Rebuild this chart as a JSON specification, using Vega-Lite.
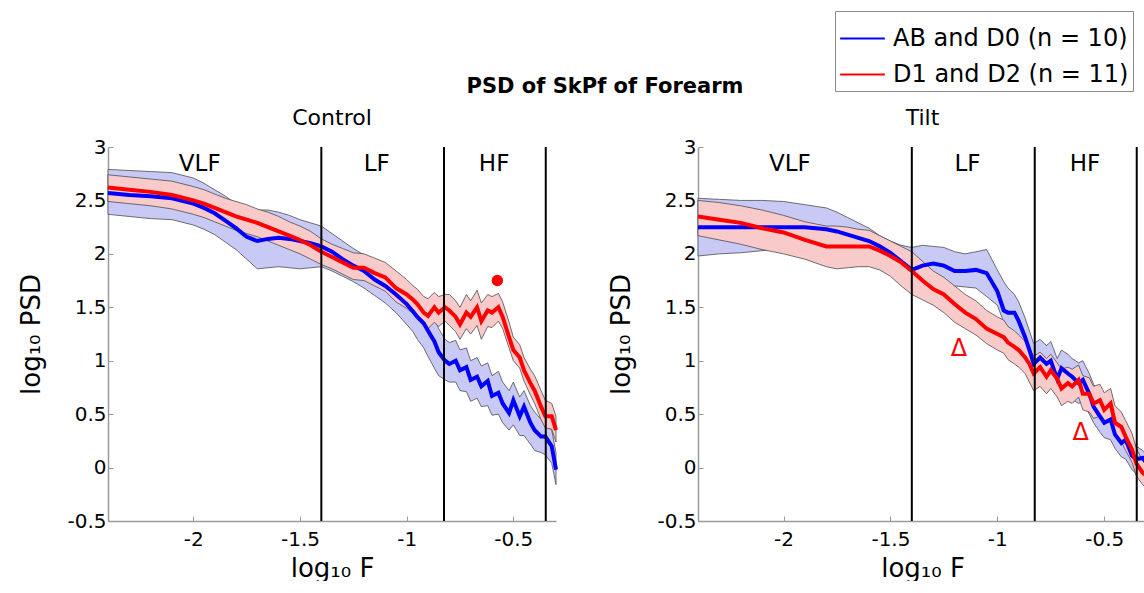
{
"$schema": "https://vega.github.io/schema/vega-lite/v6.json",
"background": "white",
"padding": {"left": 18, "top": 10, "right": 0, "bottom": 0},
"bounds": "flush",
"spacing": 142,
"title": {"text": "PSD of SkPf of Forearm", "fontSize": 21, "fontWeight": "bold", "font": "DejaVu Sans", "anchor": "middle", "color": "black", "offset": -86, "dx": 18},
"config": {
  "font": "DejaVu Sans",
  "view": {"stroke": null},
  "axis": {"domainColor": "#9a9a9a", "domainWidth": 1.5, "tickColor": "#9a9a9a", "tickSize": -5, "labelFontSize": 20, "labelColor": "black", "titleFontSize": 26, "titleFontWeight": "normal", "titleColor": "black", "grid": false, "labelFont": "DejaVu Sans", "titleFont": "DejaVu Sans"},
  "axisX": {"labelPadding": 13, "titlePadding": 6},
  "axisY": {"labelPadding": 7, "titlePadding": 22},
  "title": {"fontSize": 22, "fontWeight": "normal", "color": "black", "font": "DejaVu Sans"}
},
"datasets": {
  "psd": [
    {"panel":"Control","group":"AB and D0 (n = 10)","x":-2.4,"mean":2.57,"lo":2.37,"hi":2.79},
    {"panel":"Control","group":"AB and D0 (n = 10)","x":-2.3,"mean":2.55,"lo":2.35,"hi":2.78},
    {"panel":"Control","group":"AB and D0 (n = 10)","x":-2.2,"mean":2.54,"lo":2.33,"hi":2.77},
    {"panel":"Control","group":"AB and D0 (n = 10)","x":-2.1,"mean":2.52,"lo":2.32,"hi":2.76},
    {"panel":"Control","group":"AB and D0 (n = 10)","x":-2.0,"mean":2.47,"lo":2.27,"hi":2.71},
    {"panel":"Control","group":"AB and D0 (n = 10)","x":-1.95,"mean":2.43,"lo":2.23,"hi":2.66},
    {"panel":"Control","group":"AB and D0 (n = 10)","x":-1.9,"mean":2.38,"lo":2.18,"hi":2.60},
    {"panel":"Control","group":"AB and D0 (n = 10)","x":-1.85,"mean":2.31,"lo":2.11,"hi":2.54},
    {"panel":"Control","group":"AB and D0 (n = 10)","x":-1.8,"mean":2.24,"lo":2.04,"hi":2.47},
    {"panel":"Control","group":"AB and D0 (n = 10)","x":-1.75,"mean":2.16,"lo":1.95,"hi":2.43},
    {"panel":"Control","group":"AB and D0 (n = 10)","x":-1.7,"mean":2.12,"lo":1.86,"hi":2.41},
    {"panel":"Control","group":"AB and D0 (n = 10)","x":-1.65,"mean":2.14,"lo":1.87,"hi":2.41},
    {"panel":"Control","group":"AB and D0 (n = 10)","x":-1.6,"mean":2.15,"lo":1.88,"hi":2.39},
    {"panel":"Control","group":"AB and D0 (n = 10)","x":-1.55,"mean":2.14,"lo":1.87,"hi":2.36},
    {"panel":"Control","group":"AB and D0 (n = 10)","x":-1.5,"mean":2.12,"lo":1.86,"hi":2.32},
    {"panel":"Control","group":"AB and D0 (n = 10)","x":-1.45,"mean":2.10,"lo":1.87,"hi":2.29},
    {"panel":"Control","group":"AB and D0 (n = 10)","x":-1.4,"mean":2.07,"lo":1.88,"hi":2.26},
    {"panel":"Control","group":"AB and D0 (n = 10)","x":-1.35,"mean":2.02,"lo":1.84,"hi":2.19},
    {"panel":"Control","group":"AB and D0 (n = 10)","x":-1.3,"mean":1.95,"lo":1.79,"hi":2.12},
    {"panel":"Control","group":"AB and D0 (n = 10)","x":-1.25,"mean":1.89,"lo":1.74,"hi":2.05},
    {"panel":"Control","group":"AB and D0 (n = 10)","x":-1.2,"mean":1.84,"lo":1.68,"hi":1.99},
    {"panel":"Control","group":"AB and D0 (n = 10)","x":-1.15,"mean":1.76,"lo":1.61,"hi":1.94},
    {"panel":"Control","group":"AB and D0 (n = 10)","x":-1.1,"mean":1.70,"lo":1.54,"hi":1.88},
    {"panel":"Control","group":"AB and D0 (n = 10)","x":-1.05,"mean":1.62,"lo":1.45,"hi":1.80},
    {"panel":"Control","group":"AB and D0 (n = 10)","x":-1.0,"mean":1.53,"lo":1.34,"hi":1.70},
    {"panel":"Control","group":"AB and D0 (n = 10)","x":-0.97,"mean":1.46,"lo":1.27,"hi":1.63},
    {"panel":"Control","group":"AB and D0 (n = 10)","x":-0.95,"mean":1.41,"lo":1.20,"hi":1.58},
    {"panel":"Control","group":"AB and D0 (n = 10)","x":-0.92,"mean":1.35,"lo":1.12,"hi":1.52},
    {"panel":"Control","group":"AB and D0 (n = 10)","x":-0.9,"mean":1.28,"lo":1.04,"hi":1.48},
    {"panel":"Control","group":"AB and D0 (n = 10)","x":-0.87,"mean":1.18,"lo":0.93,"hi":1.40},
    {"panel":"Control","group":"AB and D0 (n = 10)","x":-0.85,"mean":1.08,"lo":0.86,"hi":1.30},
    {"panel":"Control","group":"AB and D0 (n = 10)","x":-0.82,"mean":1.00,"lo":0.82,"hi":1.20},
    {"panel":"Control","group":"AB and D0 (n = 10)","x":-0.8,"mean":0.97,"lo":0.80,"hi":1.17},
    {"panel":"Control","group":"AB and D0 (n = 10)","x":-0.77,"mean":1.00,"lo":0.80,"hi":1.19},
    {"panel":"Control","group":"AB and D0 (n = 10)","x":-0.75,"mean":0.91,"lo":0.72,"hi":1.10},
    {"panel":"Control","group":"AB and D0 (n = 10)","x":-0.72,"mean":0.94,"lo":0.71,"hi":1.12},
    {"panel":"Control","group":"AB and D0 (n = 10)","x":-0.7,"mean":0.82,"lo":0.62,"hi":1.00},
    {"panel":"Control","group":"AB and D0 (n = 10)","x":-0.67,"mean":0.85,"lo":0.65,"hi":1.03},
    {"panel":"Control","group":"AB and D0 (n = 10)","x":-0.65,"mean":0.76,"lo":0.57,"hi":0.95},
    {"panel":"Control","group":"AB and D0 (n = 10)","x":-0.62,"mean":0.81,"lo":0.58,"hi":0.98},
    {"panel":"Control","group":"AB and D0 (n = 10)","x":-0.6,"mean":0.67,"lo":0.49,"hi":0.86},
    {"panel":"Control","group":"AB and D0 (n = 10)","x":-0.57,"mean":0.70,"lo":0.50,"hi":0.90},
    {"panel":"Control","group":"AB and D0 (n = 10)","x":-0.55,"mean":0.60,"lo":0.42,"hi":0.80},
    {"panel":"Control","group":"AB and D0 (n = 10)","x":-0.52,"mean":0.51,"lo":0.35,"hi":0.72},
    {"panel":"Control","group":"AB and D0 (n = 10)","x":-0.5,"mean":0.63,"lo":0.40,"hi":0.80},
    {"panel":"Control","group":"AB and D0 (n = 10)","x":-0.47,"mean":0.48,"lo":0.30,"hi":0.66},
    {"panel":"Control","group":"AB and D0 (n = 10)","x":-0.45,"mean":0.57,"lo":0.30,"hi":0.72},
    {"panel":"Control","group":"AB and D0 (n = 10)","x":-0.42,"mean":0.42,"lo":0.22,"hi":0.58},
    {"panel":"Control","group":"AB and D0 (n = 10)","x":-0.4,"mean":0.35,"lo":0.16,"hi":0.52},
    {"panel":"Control","group":"AB and D0 (n = 10)","x":-0.37,"mean":0.29,"lo":0.14,"hi":0.45},
    {"panel":"Control","group":"AB and D0 (n = 10)","x":-0.35,"mean":0.29,"lo":0.12,"hi":0.42},
    {"panel":"Control","group":"AB and D0 (n = 10)","x":-0.32,"mean":0.20,"lo":0.04,"hi":0.35},
    {"panel":"Control","group":"AB and D0 (n = 10)","x":-0.3,"mean":-0.02,"lo":-0.16,"hi":0.14},

    {"panel":"Control","group":"D1 and D2 (n = 11)","x":-2.4,"mean":2.62,"lo":2.49,"hi":2.74},
    {"panel":"Control","group":"D1 and D2 (n = 11)","x":-2.3,"mean":2.60,"lo":2.47,"hi":2.72},
    {"panel":"Control","group":"D1 and D2 (n = 11)","x":-2.2,"mean":2.58,"lo":2.45,"hi":2.70},
    {"panel":"Control","group":"D1 and D2 (n = 11)","x":-2.1,"mean":2.55,"lo":2.42,"hi":2.68},
    {"panel":"Control","group":"D1 and D2 (n = 11)","x":-2.0,"mean":2.50,"lo":2.37,"hi":2.63},
    {"panel":"Control","group":"D1 and D2 (n = 11)","x":-1.95,"mean":2.47,"lo":2.34,"hi":2.60},
    {"panel":"Control","group":"D1 and D2 (n = 11)","x":-1.9,"mean":2.43,"lo":2.30,"hi":2.56},
    {"panel":"Control","group":"D1 and D2 (n = 11)","x":-1.85,"mean":2.39,"lo":2.26,"hi":2.52},
    {"panel":"Control","group":"D1 and D2 (n = 11)","x":-1.8,"mean":2.35,"lo":2.22,"hi":2.49},
    {"panel":"Control","group":"D1 and D2 (n = 11)","x":-1.75,"mean":2.32,"lo":2.19,"hi":2.46},
    {"panel":"Control","group":"D1 and D2 (n = 11)","x":-1.7,"mean":2.29,"lo":2.16,"hi":2.42},
    {"panel":"Control","group":"D1 and D2 (n = 11)","x":-1.65,"mean":2.25,"lo":2.12,"hi":2.39},
    {"panel":"Control","group":"D1 and D2 (n = 11)","x":-1.6,"mean":2.21,"lo":2.08,"hi":2.35},
    {"panel":"Control","group":"D1 and D2 (n = 11)","x":-1.55,"mean":2.17,"lo":2.04,"hi":2.30},
    {"panel":"Control","group":"D1 and D2 (n = 11)","x":-1.5,"mean":2.13,"lo":2.00,"hi":2.26},
    {"panel":"Control","group":"D1 and D2 (n = 11)","x":-1.45,"mean":2.08,"lo":1.95,"hi":2.21},
    {"panel":"Control","group":"D1 and D2 (n = 11)","x":-1.4,"mean":2.02,"lo":1.90,"hi":2.14},
    {"panel":"Control","group":"D1 and D2 (n = 11)","x":-1.35,"mean":1.97,"lo":1.86,"hi":2.09},
    {"panel":"Control","group":"D1 and D2 (n = 11)","x":-1.3,"mean":1.92,"lo":1.81,"hi":2.05},
    {"panel":"Control","group":"D1 and D2 (n = 11)","x":-1.25,"mean":1.87,"lo":1.76,"hi":2.01},
    {"panel":"Control","group":"D1 and D2 (n = 11)","x":-1.2,"mean":1.87,"lo":1.75,"hi":2.00},
    {"panel":"Control","group":"D1 and D2 (n = 11)","x":-1.15,"mean":1.82,"lo":1.70,"hi":1.96},
    {"panel":"Control","group":"D1 and D2 (n = 11)","x":-1.1,"mean":1.78,"lo":1.65,"hi":1.92},
    {"panel":"Control","group":"D1 and D2 (n = 11)","x":-1.05,"mean":1.68,"lo":1.55,"hi":1.84},
    {"panel":"Control","group":"D1 and D2 (n = 11)","x":-1.0,"mean":1.62,"lo":1.49,"hi":1.76},
    {"panel":"Control","group":"D1 and D2 (n = 11)","x":-0.97,"mean":1.57,"lo":1.44,"hi":1.70},
    {"panel":"Control","group":"D1 and D2 (n = 11)","x":-0.95,"mean":1.53,"lo":1.40,"hi":1.67},
    {"panel":"Control","group":"D1 and D2 (n = 11)","x":-0.92,"mean":1.45,"lo":1.33,"hi":1.60},
    {"panel":"Control","group":"D1 and D2 (n = 11)","x":-0.9,"mean":1.42,"lo":1.30,"hi":1.58},
    {"panel":"Control","group":"D1 and D2 (n = 11)","x":-0.87,"mean":1.50,"lo":1.36,"hi":1.64},
    {"panel":"Control","group":"D1 and D2 (n = 11)","x":-0.85,"mean":1.45,"lo":1.32,"hi":1.60},
    {"panel":"Control","group":"D1 and D2 (n = 11)","x":-0.82,"mean":1.50,"lo":1.37,"hi":1.62},
    {"panel":"Control","group":"D1 and D2 (n = 11)","x":-0.8,"mean":1.47,"lo":1.33,"hi":1.62},
    {"panel":"Control","group":"D1 and D2 (n = 11)","x":-0.77,"mean":1.41,"lo":1.27,"hi":1.56},
    {"panel":"Control","group":"D1 and D2 (n = 11)","x":-0.75,"mean":1.34,"lo":1.20,"hi":1.50},
    {"panel":"Control","group":"D1 and D2 (n = 11)","x":-0.72,"mean":1.45,"lo":1.30,"hi":1.62},
    {"panel":"Control","group":"D1 and D2 (n = 11)","x":-0.7,"mean":1.41,"lo":1.25,"hi":1.56},
    {"panel":"Control","group":"D1 and D2 (n = 11)","x":-0.67,"mean":1.50,"lo":1.33,"hi":1.66},
    {"panel":"Control","group":"D1 and D2 (n = 11)","x":-0.65,"mean":1.37,"lo":1.20,"hi":1.54},
    {"panel":"Control","group":"D1 and D2 (n = 11)","x":-0.62,"mean":1.47,"lo":1.32,"hi":1.62},
    {"panel":"Control","group":"D1 and D2 (n = 11)","x":-0.6,"mean":1.45,"lo":1.31,"hi":1.60},
    {"panel":"Control","group":"D1 and D2 (n = 11)","x":-0.57,"mean":1.50,"lo":1.37,"hi":1.63},
    {"panel":"Control","group":"D1 and D2 (n = 11)","x":-0.55,"mean":1.41,"lo":1.30,"hi":1.55},
    {"panel":"Control","group":"D1 and D2 (n = 11)","x":-0.52,"mean":1.22,"lo":1.12,"hi":1.36},
    {"panel":"Control","group":"D1 and D2 (n = 11)","x":-0.5,"mean":1.10,"lo":1.00,"hi":1.22},
    {"panel":"Control","group":"D1 and D2 (n = 11)","x":-0.47,"mean":1.03,"lo":0.93,"hi":1.15},
    {"panel":"Control","group":"D1 and D2 (n = 11)","x":-0.45,"mean":0.91,"lo":0.81,"hi":1.03},
    {"panel":"Control","group":"D1 and D2 (n = 11)","x":-0.42,"mean":0.79,"lo":0.68,"hi":0.92},
    {"panel":"Control","group":"D1 and D2 (n = 11)","x":-0.4,"mean":0.72,"lo":0.60,"hi":0.86},
    {"panel":"Control","group":"D1 and D2 (n = 11)","x":-0.37,"mean":0.57,"lo":0.45,"hi":0.72},
    {"panel":"Control","group":"D1 and D2 (n = 11)","x":-0.35,"mean":0.48,"lo":0.37,"hi":0.63},
    {"panel":"Control","group":"D1 and D2 (n = 11)","x":-0.32,"mean":0.48,"lo":0.36,"hi":0.60},
    {"panel":"Control","group":"D1 and D2 (n = 11)","x":-0.3,"mean":0.35,"lo":0.24,"hi":0.48},

    {"panel":"Tilt","group":"AB and D0 (n = 10)","x":-2.4,"mean":2.25,"lo":1.98,"hi":2.52},
    {"panel":"Tilt","group":"AB and D0 (n = 10)","x":-2.3,"mean":2.25,"lo":2.00,"hi":2.51},
    {"panel":"Tilt","group":"AB and D0 (n = 10)","x":-2.2,"mean":2.25,"lo":2.01,"hi":2.50},
    {"panel":"Tilt","group":"AB and D0 (n = 10)","x":-2.1,"mean":2.25,"lo":2.03,"hi":2.50},
    {"panel":"Tilt","group":"AB and D0 (n = 10)","x":-2.0,"mean":2.25,"lo":2.05,"hi":2.49},
    {"panel":"Tilt","group":"AB and D0 (n = 10)","x":-1.9,"mean":2.25,"lo":2.05,"hi":2.46},
    {"panel":"Tilt","group":"AB and D0 (n = 10)","x":-1.8,"mean":2.23,"lo":2.03,"hi":2.43},
    {"panel":"Tilt","group":"AB and D0 (n = 10)","x":-1.75,"mean":2.21,"lo":2.01,"hi":2.39},
    {"panel":"Tilt","group":"AB and D0 (n = 10)","x":-1.7,"mean":2.18,"lo":1.99,"hi":2.34},
    {"panel":"Tilt","group":"AB and D0 (n = 10)","x":-1.65,"mean":2.15,"lo":1.97,"hi":2.29},
    {"panel":"Tilt","group":"AB and D0 (n = 10)","x":-1.6,"mean":2.12,"lo":1.94,"hi":2.24},
    {"panel":"Tilt","group":"AB and D0 (n = 10)","x":-1.55,"mean":2.07,"lo":1.90,"hi":2.17},
    {"panel":"Tilt","group":"AB and D0 (n = 10)","x":-1.5,"mean":2.01,"lo":1.84,"hi":2.12},
    {"panel":"Tilt","group":"AB and D0 (n = 10)","x":-1.45,"mean":1.93,"lo":1.77,"hi":2.08},
    {"panel":"Tilt","group":"AB and D0 (n = 10)","x":-1.4,"mean":1.85,"lo":1.70,"hi":2.06},
    {"panel":"Tilt","group":"AB and D0 (n = 10)","x":-1.35,"mean":1.89,"lo":1.72,"hi":2.08},
    {"panel":"Tilt","group":"AB and D0 (n = 10)","x":-1.3,"mean":1.91,"lo":1.74,"hi":2.07},
    {"panel":"Tilt","group":"AB and D0 (n = 10)","x":-1.25,"mean":1.89,"lo":1.72,"hi":2.06},
    {"panel":"Tilt","group":"AB and D0 (n = 10)","x":-1.2,"mean":1.84,"lo":1.70,"hi":2.02},
    {"panel":"Tilt","group":"AB and D0 (n = 10)","x":-1.15,"mean":1.84,"lo":1.69,"hi":2.00},
    {"panel":"Tilt","group":"AB and D0 (n = 10)","x":-1.1,"mean":1.85,"lo":1.68,"hi":2.02},
    {"panel":"Tilt","group":"AB and D0 (n = 10)","x":-1.05,"mean":1.82,"lo":1.60,"hi":2.04},
    {"panel":"Tilt","group":"AB and D0 (n = 10)","x":-1.0,"mean":1.65,"lo":1.52,"hi":1.85},
    {"panel":"Tilt","group":"AB and D0 (n = 10)","x":-0.97,"mean":1.47,"lo":1.36,"hi":1.74},
    {"panel":"Tilt","group":"AB and D0 (n = 10)","x":-0.95,"mean":1.45,"lo":1.30,"hi":1.68},
    {"panel":"Tilt","group":"AB and D0 (n = 10)","x":-0.92,"mean":1.45,"lo":1.25,"hi":1.62},
    {"panel":"Tilt","group":"AB and D0 (n = 10)","x":-0.9,"mean":1.37,"lo":1.18,"hi":1.55},
    {"panel":"Tilt","group":"AB and D0 (n = 10)","x":-0.87,"mean":1.22,"lo":1.05,"hi":1.40},
    {"panel":"Tilt","group":"AB and D0 (n = 10)","x":-0.85,"mean":1.10,"lo":0.97,"hi":1.28},
    {"panel":"Tilt","group":"AB and D0 (n = 10)","x":-0.83,"mean":0.97,"lo":0.88,"hi":1.16},
    {"panel":"Tilt","group":"AB and D0 (n = 10)","x":-0.8,"mean":1.03,"lo":0.86,"hi":1.20},
    {"panel":"Tilt","group":"AB and D0 (n = 10)","x":-0.77,"mean":0.97,"lo":0.80,"hi":1.14},
    {"panel":"Tilt","group":"AB and D0 (n = 10)","x":-0.75,"mean":1.00,"lo":0.78,"hi":1.18},
    {"panel":"Tilt","group":"AB and D0 (n = 10)","x":-0.72,"mean":0.83,"lo":0.70,"hi":1.02},
    {"panel":"Tilt","group":"AB and D0 (n = 10)","x":-0.7,"mean":0.93,"lo":0.74,"hi":1.10},
    {"panel":"Tilt","group":"AB and D0 (n = 10)","x":-0.67,"mean":0.88,"lo":0.68,"hi":1.06},
    {"panel":"Tilt","group":"AB and D0 (n = 10)","x":-0.65,"mean":0.85,"lo":0.64,"hi":1.02},
    {"panel":"Tilt","group":"AB and D0 (n = 10)","x":-0.62,"mean":0.79,"lo":0.60,"hi":0.98},
    {"panel":"Tilt","group":"AB and D0 (n = 10)","x":-0.6,"mean":0.82,"lo":0.62,"hi":1.00},
    {"panel":"Tilt","group":"AB and D0 (n = 10)","x":-0.57,"mean":0.69,"lo":0.50,"hi":0.88},
    {"panel":"Tilt","group":"AB and D0 (n = 10)","x":-0.55,"mean":0.57,"lo":0.42,"hi":0.78},
    {"panel":"Tilt","group":"AB and D0 (n = 10)","x":-0.52,"mean":0.48,"lo":0.33,"hi":0.68},
    {"panel":"Tilt","group":"AB and D0 (n = 10)","x":-0.5,"mean":0.42,"lo":0.28,"hi":0.60},
    {"panel":"Tilt","group":"AB and D0 (n = 10)","x":-0.47,"mean":0.45,"lo":0.26,"hi":0.58},
    {"panel":"Tilt","group":"AB and D0 (n = 10)","x":-0.45,"mean":0.31,"lo":0.18,"hi":0.48},
    {"panel":"Tilt","group":"AB and D0 (n = 10)","x":-0.42,"mean":0.23,"lo":0.10,"hi":0.40},
    {"panel":"Tilt","group":"AB and D0 (n = 10)","x":-0.4,"mean":0.26,"lo":0.08,"hi":0.38},
    {"panel":"Tilt","group":"AB and D0 (n = 10)","x":-0.37,"mean":0.11,"lo":-0.02,"hi":0.26},
    {"panel":"Tilt","group":"AB and D0 (n = 10)","x":-0.35,"mean":0.08,"lo":-0.06,"hi":0.20},
    {"panel":"Tilt","group":"AB and D0 (n = 10)","x":-0.32,"mean":0.09,"lo":-0.08,"hi":0.16},
    {"panel":"Tilt","group":"AB and D0 (n = 10)","x":-0.3,"mean":0.04,"lo":-0.12,"hi":0.12},

    {"panel":"Tilt","group":"D1 and D2 (n = 11)","x":-2.4,"mean":2.35,"lo":2.17,"hi":2.50},
    {"panel":"Tilt","group":"D1 and D2 (n = 11)","x":-2.3,"mean":2.32,"lo":2.13,"hi":2.48},
    {"panel":"Tilt","group":"D1 and D2 (n = 11)","x":-2.2,"mean":2.29,"lo":2.09,"hi":2.45},
    {"panel":"Tilt","group":"D1 and D2 (n = 11)","x":-2.1,"mean":2.24,"lo":2.04,"hi":2.41},
    {"panel":"Tilt","group":"D1 and D2 (n = 11)","x":-2.0,"mean":2.20,"lo":2.00,"hi":2.36},
    {"panel":"Tilt","group":"D1 and D2 (n = 11)","x":-1.9,"mean":2.13,"lo":1.95,"hi":2.30},
    {"panel":"Tilt","group":"D1 and D2 (n = 11)","x":-1.8,"mean":2.07,"lo":1.88,"hi":2.26},
    {"panel":"Tilt","group":"D1 and D2 (n = 11)","x":-1.75,"mean":2.07,"lo":1.86,"hi":2.26},
    {"panel":"Tilt","group":"D1 and D2 (n = 11)","x":-1.7,"mean":2.07,"lo":1.87,"hi":2.25},
    {"panel":"Tilt","group":"D1 and D2 (n = 11)","x":-1.65,"mean":2.07,"lo":1.88,"hi":2.23},
    {"panel":"Tilt","group":"D1 and D2 (n = 11)","x":-1.6,"mean":2.07,"lo":1.88,"hi":2.22},
    {"panel":"Tilt","group":"D1 and D2 (n = 11)","x":-1.55,"mean":2.03,"lo":1.85,"hi":2.17},
    {"panel":"Tilt","group":"D1 and D2 (n = 11)","x":-1.5,"mean":1.98,"lo":1.79,"hi":2.12},
    {"panel":"Tilt","group":"D1 and D2 (n = 11)","x":-1.45,"mean":1.92,"lo":1.70,"hi":2.07},
    {"panel":"Tilt","group":"D1 and D2 (n = 11)","x":-1.4,"mean":1.84,"lo":1.62,"hi":2.02},
    {"panel":"Tilt","group":"D1 and D2 (n = 11)","x":-1.35,"mean":1.75,"lo":1.57,"hi":1.93},
    {"panel":"Tilt","group":"D1 and D2 (n = 11)","x":-1.3,"mean":1.67,"lo":1.52,"hi":1.84},
    {"panel":"Tilt","group":"D1 and D2 (n = 11)","x":-1.25,"mean":1.62,"lo":1.45,"hi":1.78},
    {"panel":"Tilt","group":"D1 and D2 (n = 11)","x":-1.2,"mean":1.53,"lo":1.36,"hi":1.70},
    {"panel":"Tilt","group":"D1 and D2 (n = 11)","x":-1.15,"mean":1.45,"lo":1.30,"hi":1.62},
    {"panel":"Tilt","group":"D1 and D2 (n = 11)","x":-1.1,"mean":1.39,"lo":1.24,"hi":1.56},
    {"panel":"Tilt","group":"D1 and D2 (n = 11)","x":-1.05,"mean":1.30,"lo":1.16,"hi":1.47},
    {"panel":"Tilt","group":"D1 and D2 (n = 11)","x":-1.0,"mean":1.25,"lo":1.10,"hi":1.41},
    {"panel":"Tilt","group":"D1 and D2 (n = 11)","x":-0.97,"mean":1.22,"lo":1.07,"hi":1.38},
    {"panel":"Tilt","group":"D1 and D2 (n = 11)","x":-0.95,"mean":1.17,"lo":1.01,"hi":1.32},
    {"panel":"Tilt","group":"D1 and D2 (n = 11)","x":-0.92,"mean":1.13,"lo":0.97,"hi":1.28},
    {"panel":"Tilt","group":"D1 and D2 (n = 11)","x":-0.9,"mean":1.10,"lo":0.94,"hi":1.24},
    {"panel":"Tilt","group":"D1 and D2 (n = 11)","x":-0.87,"mean":1.03,"lo":0.88,"hi":1.18},
    {"panel":"Tilt","group":"D1 and D2 (n = 11)","x":-0.85,"mean":0.97,"lo":0.80,"hi":1.12},
    {"panel":"Tilt","group":"D1 and D2 (n = 11)","x":-0.83,"mean":0.88,"lo":0.72,"hi":1.04},
    {"panel":"Tilt","group":"D1 and D2 (n = 11)","x":-0.8,"mean":0.94,"lo":0.76,"hi":1.08},
    {"panel":"Tilt","group":"D1 and D2 (n = 11)","x":-0.77,"mean":0.85,"lo":0.69,"hi":1.02},
    {"panel":"Tilt","group":"D1 and D2 (n = 11)","x":-0.75,"mean":0.91,"lo":0.74,"hi":1.06},
    {"panel":"Tilt","group":"D1 and D2 (n = 11)","x":-0.72,"mean":0.83,"lo":0.66,"hi":0.98},
    {"panel":"Tilt","group":"D1 and D2 (n = 11)","x":-0.7,"mean":0.74,"lo":0.58,"hi":0.92},
    {"panel":"Tilt","group":"D1 and D2 (n = 11)","x":-0.67,"mean":0.79,"lo":0.62,"hi":0.94},
    {"panel":"Tilt","group":"D1 and D2 (n = 11)","x":-0.65,"mean":0.76,"lo":0.60,"hi":0.92},
    {"panel":"Tilt","group":"D1 and D2 (n = 11)","x":-0.62,"mean":0.82,"lo":0.66,"hi":0.96},
    {"panel":"Tilt","group":"D1 and D2 (n = 11)","x":-0.6,"mean":0.69,"lo":0.54,"hi":0.86},
    {"panel":"Tilt","group":"D1 and D2 (n = 11)","x":-0.57,"mean":0.69,"lo":0.52,"hi":0.84},
    {"panel":"Tilt","group":"D1 and D2 (n = 11)","x":-0.55,"mean":0.60,"lo":0.46,"hi":0.76},
    {"panel":"Tilt","group":"D1 and D2 (n = 11)","x":-0.52,"mean":0.63,"lo":0.48,"hi":0.78},
    {"panel":"Tilt","group":"D1 and D2 (n = 11)","x":-0.5,"mean":0.54,"lo":0.40,"hi":0.70},
    {"panel":"Tilt","group":"D1 and D2 (n = 11)","x":-0.47,"mean":0.60,"lo":0.44,"hi":0.74},
    {"panel":"Tilt","group":"D1 and D2 (n = 11)","x":-0.45,"mean":0.42,"lo":0.30,"hi":0.58},
    {"panel":"Tilt","group":"D1 and D2 (n = 11)","x":-0.42,"mean":0.38,"lo":0.24,"hi":0.52},
    {"panel":"Tilt","group":"D1 and D2 (n = 11)","x":-0.4,"mean":0.29,"lo":0.16,"hi":0.44},
    {"panel":"Tilt","group":"D1 and D2 (n = 11)","x":-0.37,"mean":0.17,"lo":0.05,"hi":0.32},
    {"panel":"Tilt","group":"D1 and D2 (n = 11)","x":-0.35,"mean":0.04,"lo":-0.08,"hi":0.18},
    {"panel":"Tilt","group":"D1 and D2 (n = 11)","x":-0.32,"mean":-0.05,"lo":-0.16,"hi":0.06},
    {"panel":"Tilt","group":"D1 and D2 (n = 11)","x":-0.3,"mean":-0.08,"lo":-0.20,"hi":0.02}
  ],
  "bounds": [{"x": -1.4}, {"x": -0.825}, {"x": -0.348}],
  "bands": [{"label": "VLF", "x": -1.97, "y": 2.84}, {"label": "LF", "x": -1.14, "y": 2.84}, {"label": "HF", "x": -0.59, "y": 2.84}],
  "notes": [
    {"panel": "Control", "kind": "dot", "x": -0.575, "y": 1.75},
    {"panel": "Tilt", "kind": "delta", "x": -1.18, "y": 1.11},
    {"panel": "Tilt", "kind": "delta", "x": -0.61, "y": 0.32}
  ]
},
"hconcat": [
  {
    "width": 448, "height": 374,
    "title": {"text": "Control", "offset": 7},
    "layer": [
      {"data": {"name": "psd"}, "transform": [{"filter": "datum.panel == 'Control' && datum.group == 'AB and D0 (n = 10)'"}],
       "mark": {"type": "area", "fill": "#c9c9f5", "stroke": "#4d4d4d", "strokeWidth": 0.8},
       "encoding": {
         "x": {"field": "x", "type": "quantitative", "scale": {"domain": [-2.4, -0.3], "nice": false, "zero": false}, "axis": {"title": "log₁₀ F", "values": [-2, -1.5, -1, -0.5], "labelExpr": "'' + datum.value"}},
         "y": {"field": "lo", "type": "quantitative", "scale": {"domain": [-0.5, 3], "nice": false, "zero": false}, "axis": {"title": "log₁₀ PSD", "values": [-0.5, 0, 0.5, 1, 1.5, 2, 2.5, 3], "labelExpr": "'' + datum.value"}},
         "y2": {"field": "hi"}}},
      {"data": {"name": "psd"}, "transform": [{"filter": "datum.panel == 'Control' && datum.group == 'D1 and D2 (n = 11)'"}],
       "mark": {"type": "area", "fill": "#f8caca", "stroke": "#4d4d4d", "strokeWidth": 0.8},
       "encoding": {"x": {"field": "x", "type": "quantitative"}, "y": {"field": "lo", "type": "quantitative"}, "y2": {"field": "hi"}}},
      {"data": {"name": "psd"}, "transform": [{"filter": "datum.panel == 'Control'"}],
       "mark": {"type": "line", "strokeWidth": 4},
       "encoding": {"x": {"field": "x", "type": "quantitative"}, "y": {"field": "mean", "type": "quantitative"},
         "color": {"field": "group", "type": "nominal", "scale": {"domain": ["AB and D0 (n = 10)", "D1 and D2 (n = 11)"], "range": ["#0000ff", "#ff0000"]},
           "legend": {"orient": "none", "legendX": 727, "legendY": -136, "title": null, "symbolType": "stroke", "symbolStrokeWidth": 2, "symbolSize": 2000, "labelFontSize": 24, "labelFont": "DejaVu Sans", "labelColor": "black", "labelLimit": 500, "strokeColor": "#8a8a8a", "fillColor": "white", "padding": 4, "rowPadding": -11, "labelOffset": 7}}}},
      {"data": {"name": "bounds"}, "mark": {"type": "rule", "color": "black", "strokeWidth": 2}, "encoding": {"x": {"field": "x", "type": "quantitative"}}},
      {"data": {"name": "bands"}, "mark": {"type": "text", "fontSize": 23, "color": "black"}, "encoding": {"x": {"field": "x", "type": "quantitative"}, "y": {"field": "y", "type": "quantitative"}, "text": {"field": "label"}}},
      {"data": {"name": "notes"}, "transform": [{"filter": "datum.panel == 'Control'"}], "mark": {"type": "point", "filled": true, "color": "#ff0000", "size": 130, "opacity": 1}, "encoding": {"x": {"field": "x", "type": "quantitative"}, "y": {"field": "y", "type": "quantitative"}}}
    ]
  },
  {
    "width": 449, "height": 374,
    "title": {"text": "Tilt", "offset": 7},
    "layer": [
      {"data": {"name": "psd"}, "transform": [{"filter": "datum.panel == 'Tilt' && datum.group == 'AB and D0 (n = 10)'"}],
       "mark": {"type": "area", "fill": "#c9c9f5", "stroke": "#4d4d4d", "strokeWidth": 0.8},
       "encoding": {
         "x": {"field": "x", "type": "quantitative", "scale": {"domain": [-2.4, -0.3], "nice": false, "zero": false}, "axis": {"title": "log₁₀ F", "values": [-2, -1.5, -1, -0.5], "labelExpr": "'' + datum.value"}},
         "y": {"field": "lo", "type": "quantitative", "scale": {"domain": [-0.5, 3], "nice": false, "zero": false}, "axis": {"title": "log₁₀ PSD", "values": [-0.5, 0, 0.5, 1, 1.5, 2, 2.5, 3], "labelExpr": "'' + datum.value"}},
         "y2": {"field": "hi"}}},
      {"data": {"name": "psd"}, "transform": [{"filter": "datum.panel == 'Tilt' && datum.group == 'D1 and D2 (n = 11)'"}],
       "mark": {"type": "area", "fill": "#f8caca", "stroke": "#4d4d4d", "strokeWidth": 0.8},
       "encoding": {"x": {"field": "x", "type": "quantitative"}, "y": {"field": "lo", "type": "quantitative"}, "y2": {"field": "hi"}}},
      {"data": {"name": "psd"}, "transform": [{"filter": "datum.panel == 'Tilt'"}],
       "mark": {"type": "line", "strokeWidth": 4},
       "encoding": {"x": {"field": "x", "type": "quantitative"}, "y": {"field": "mean", "type": "quantitative"},
         "color": {"field": "group", "type": "nominal", "scale": {"domain": ["AB and D0 (n = 10)", "D1 and D2 (n = 11)"], "range": ["#0000ff", "#ff0000"]}}}},
      {"data": {"name": "bounds"}, "mark": {"type": "rule", "color": "black", "strokeWidth": 2}, "encoding": {"x": {"field": "x", "type": "quantitative"}}},
      {"data": {"name": "bands"}, "mark": {"type": "text", "fontSize": 23, "color": "black"}, "encoding": {"x": {"field": "x", "type": "quantitative"}, "y": {"field": "y", "type": "quantitative"}, "text": {"field": "label"}}},
      {"data": {"name": "notes"}, "transform": [{"filter": "datum.panel == 'Tilt'"}], "mark": {"type": "text", "text": "Δ", "fontSize": 24, "color": "#ff0000"}, "encoding": {"x": {"field": "x", "type": "quantitative"}, "y": {"field": "y", "type": "quantitative"}}}
    ]
  }
]
}
